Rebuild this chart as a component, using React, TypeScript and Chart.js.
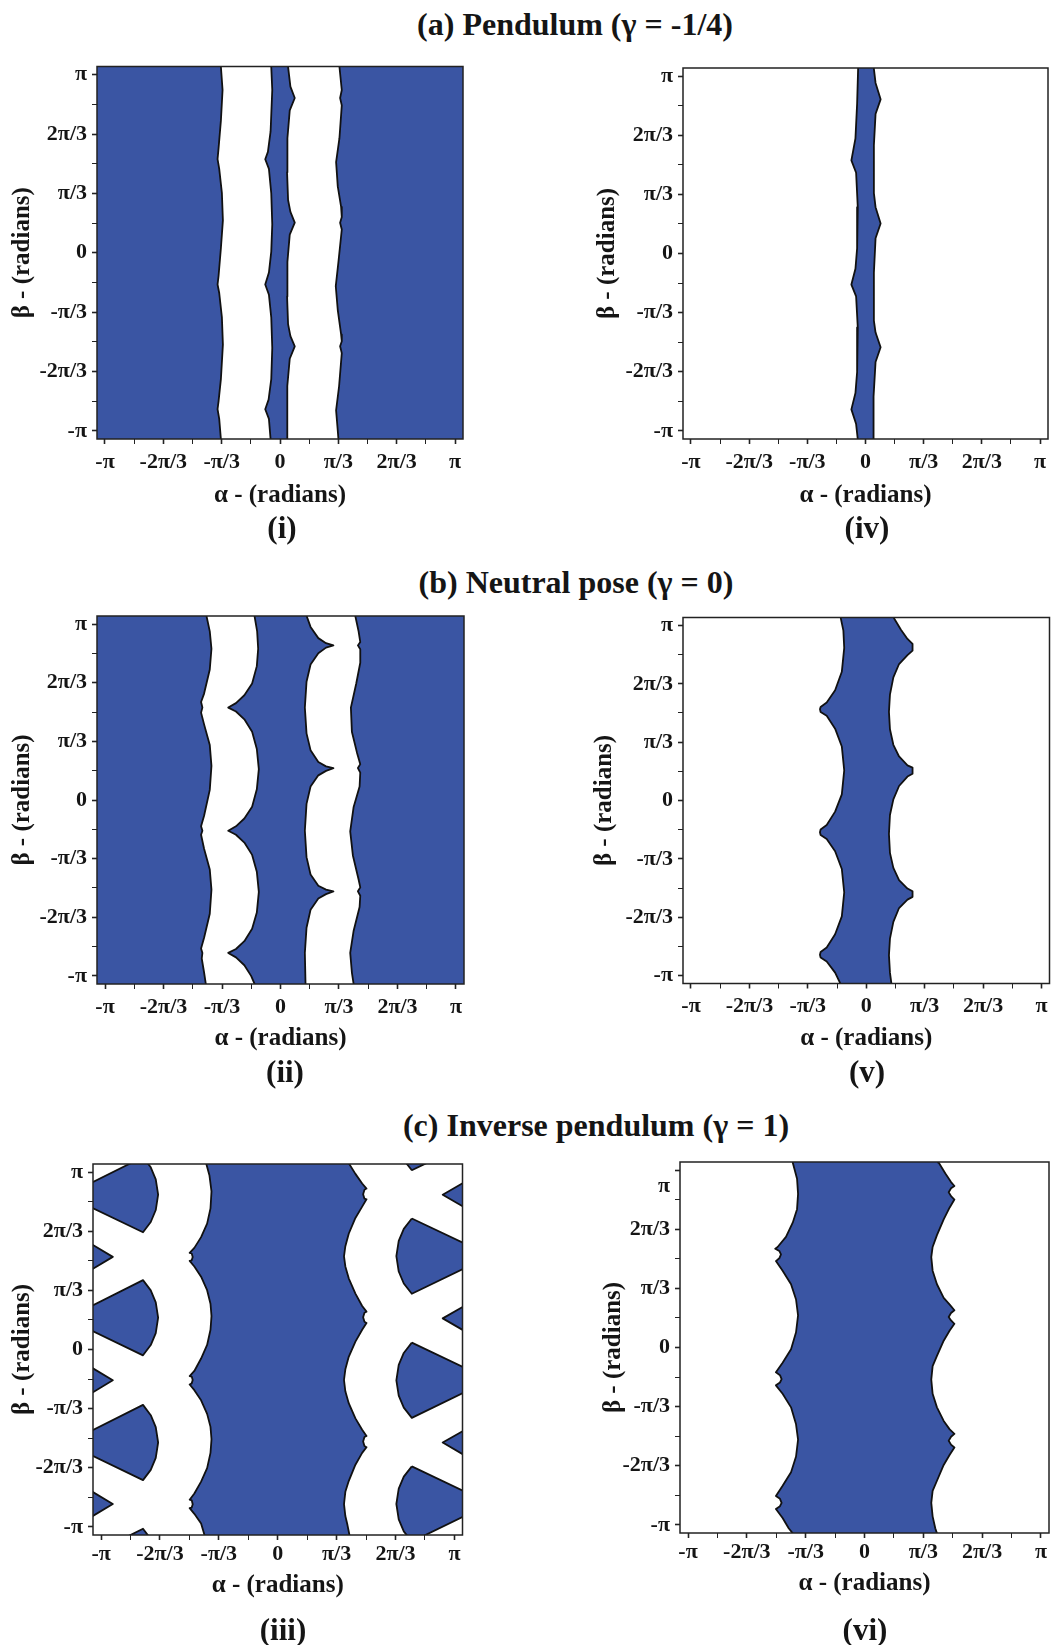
import React, { useEffect, useRef } from 'react';
import { Chart, registerables } from 'chart.js';

Chart.register(...registerables);

type Pt = [number, number];

// ---------- tick values / labels ----------
const TICK_VALUES = [-3.14159, -2.61799, -2.0944, -1.5708, -1.0472, -0.5236, 0, 0.5236, 1.0472, 1.5708, 2.0944, 2.61799, 3.14159];
const TICK_LABELS = ['-π', '', '-2π/3', '', '-π/3', '', '0', '', 'π/3', '', '2π/3', '', 'π'];
const SECTION_TITLES = ['(a) Pendulum (γ = -1/4)', '(b) Neutral pose (γ = 0)', '(c) Inverse pendulum (γ = 1)'];
const PANEL_LABELS = ['(i)', '(iv)', '(ii)', '(v)', '(iii)', '(vi)'];
const X_TITLE = 'α - (radians)';
const Y_TITLE = 'β - (radians)';

// ---------- (i) Pendulum, boundary curves [alpha, beta] ----------
const I_L1: Pt[] = [[-1.061, 3.4], [-1.061, 3.28], [-1.031, 2.87], [-1.061, 2.33], [-1.103, 1.84], [-1.121, 1.65], [-1.091, 1.48], [-1.043, 1.05], [-1.025, 0.57], [-1.061, 0.08], [-1.103, -0.41], [-1.121, -0.56], [-1.091, -0.71], [-1.043, -1.14], [-1.025, -1.62], [-1.061, -2.23], [-1.103, -2.62], [-1.121, -2.76], [-1.091, -2.93], [-1.061, -3.29], [-1.061, -3.4]];
const I_L2: Pt[] = [[-0.157, 3.4], [-0.157, 3.28], [-0.139, 2.87], [-0.169, 2.14], [-0.217, 1.78], [-0.265, 1.65], [-0.199, 1.48], [-0.157, 1.05], [-0.139, 0.5], [-0.157, 0.02], [-0.199, -0.35], [-0.265, -0.56], [-0.199, -0.74], [-0.157, -1.14], [-0.139, -1.68], [-0.157, -2.23], [-0.205, -2.59], [-0.265, -2.76], [-0.199, -2.93], [-0.169, -3.29], [-0.169, -3.4]];
const I_L3: Pt[] = [[0.145, 3.4], [0.145, 3.28], [0.187, 2.93], [0.265, 2.73], [0.175, 2.51], [0.133, 2.02], [0.127, 1.42], [0.145, 0.93], [0.187, 0.72], [0.265, 0.53], [0.175, 0.32], [0.133, -0.16], [0.127, -0.77], [0.145, -1.26], [0.187, -1.47], [0.265, -1.65], [0.175, -1.87], [0.133, -2.35], [0.127, -2.84], [0.133, -3.29], [0.133, -3.4]];
const I_L4: Pt[] = [[1.067, 3.4], [1.067, 3.28], [1.109, 2.87], [1.079, 2.73], [1.109, 2.6], [1.067, 2.02], [1.007, 1.6], [1.037, 1.17], [1.097, 0.81], [1.109, 0.63], [1.079, 0.53], [1.109, 0.41], [1.049, -0.16], [1.001, -0.59], [1.037, -1.01], [1.097, -1.44], [1.109, -1.56], [1.079, -1.65], [1.109, -1.77], [1.061, -2.35], [1.007, -2.78], [1.037, -3.14], [1.049, -3.29], [1.049, -3.4]];

// ---------- (iv) ----------
const IV_LEFT: Pt[] = [[-0.133, 3.4], [-0.133, 3.27], [-0.151, 2.65], [-0.181, 2.04], [-0.254, 1.65], [-0.169, 1.43], [-0.139, 0.82], [-0.151, 0.09], [-0.181, -0.27], [-0.254, -0.55], [-0.169, -0.76], [-0.139, -1.31], [-0.151, -2.1], [-0.181, -2.47], [-0.254, -2.76], [-0.169, -3.02], [-0.139, -3.29], [-0.139, -3.4]];
const IV_RIGHT: Pt[] = [[0.151, 3.4], [0.151, 3.27], [0.181, 3.02], [0.272, 2.73], [0.181, 2.47], [0.151, 1.92], [0.151, 1.07], [0.181, 0.82], [0.272, 0.53], [0.181, 0.27], [0.151, -0.34], [0.151, -1.19], [0.181, -1.4], [0.272, -1.66], [0.181, -1.92], [0.151, -2.53], [0.139, -3.29], [0.139, -3.4]];

// ---------- (ii) Neutral pose ----------
const II_M1: Pt[] = [[-1.326, 3.4], [-1.326, 3.29], [-1.266, 3.01], [-1.236, 2.7], [-1.266, 2.33], [-1.368, 1.9], [-1.422, 1.75], [-1.398, 1.65], [-1.422, 1.56], [-1.368, 1.35], [-1.266, 0.98], [-1.236, 0.61], [-1.266, 0.18], [-1.368, -0.28], [-1.422, -0.47], [-1.398, -0.55], [-1.422, -0.62], [-1.368, -0.87], [-1.266, -1.24], [-1.236, -1.6], [-1.266, -2.03], [-1.368, -2.46], [-1.422, -2.65], [-1.398, -2.73], [-1.41, -2.83], [-1.368, -3.08], [-1.338, -3.28], [-1.338, -3.4]];
const II_M2: Pt[] = [[-0.466, 3.4], [-0.466, 3.29], [-0.418, 3.01], [-0.4, 2.7], [-0.424, 2.39], [-0.508, 2.08], [-0.647, 1.87], [-0.797, 1.73], [-0.935, 1.65], [-0.797, 1.58], [-0.647, 1.44], [-0.508, 1.22], [-0.424, 0.91], [-0.388, 0.55], [-0.424, 0.19], [-0.508, -0.12], [-0.647, -0.33], [-0.797, -0.47], [-0.935, -0.55], [-0.797, -0.62], [-0.647, -0.76], [-0.508, -0.98], [-0.424, -1.28], [-0.388, -1.64], [-0.424, -2.01], [-0.508, -2.3], [-0.647, -2.52], [-0.797, -2.66], [-0.935, -2.73], [-0.797, -2.81], [-0.647, -2.95], [-0.526, -3.14], [-0.466, -3.28], [-0.466, -3.4]];
const II_M3: Pt[] = [[0.466, 3.4], [0.466, 3.29], [0.538, 3.09], [0.677, 2.89], [0.815, 2.8], [0.947, 2.76], [0.815, 2.72], [0.677, 2.62], [0.538, 2.42], [0.466, 2.11], [0.436, 1.65], [0.466, 1.19], [0.538, 0.89], [0.677, 0.68], [0.815, 0.6], [0.947, 0.57], [0.815, 0.52], [0.677, 0.44], [0.538, 0.24], [0.466, -0.07], [0.436, -0.55], [0.466, -1.02], [0.538, -1.33], [0.677, -1.53], [0.815, -1.6], [0.947, -1.63], [0.815, -1.68], [0.677, -1.76], [0.538, -1.96], [0.466, -2.28], [0.436, -2.73], [0.448, -3.28], [0.448, -3.4]];
const II_M4: Pt[] = [[1.338, 3.4], [1.338, 3.29], [1.398, 3.01], [1.428, 2.82], [1.386, 2.76], [1.428, 2.69], [1.428, 2.45], [1.356, 2.08], [1.26, 1.65], [1.278, 1.22], [1.368, 0.85], [1.428, 0.64], [1.386, 0.57], [1.428, 0.49], [1.416, 0.24], [1.308, -0.13], [1.248, -0.56], [1.296, -0.99], [1.398, -1.42], [1.428, -1.56], [1.386, -1.63], [1.428, -1.71], [1.416, -1.91], [1.308, -2.34], [1.248, -2.73], [1.278, -3.08], [1.308, -3.28], [1.308, -3.4]];

// ---------- (v) ----------
const V_LEFT: Pt[] = [[-0.456, 3.4], [-0.456, 3.27], [-0.41, 3.05], [-0.395, 2.74], [-0.438, 2.31], [-0.558, 1.98], [-0.709, 1.76], [-0.818, 1.68], [-0.83, 1.64], [-0.818, 1.59], [-0.709, 1.52], [-0.558, 1.29], [-0.438, 0.97], [-0.395, 0.54], [-0.438, 0.11], [-0.558, -0.2], [-0.709, -0.44], [-0.818, -0.52], [-0.83, -0.57], [-0.818, -0.62], [-0.709, -0.69], [-0.558, -0.91], [-0.438, -1.23], [-0.395, -1.65], [-0.438, -2.08], [-0.558, -2.4], [-0.709, -2.64], [-0.818, -2.72], [-0.83, -2.77], [-0.818, -2.82], [-0.709, -2.89], [-0.558, -3.09], [-0.468, -3.28], [-0.468, -3.4]];
const V_RIGHT: Pt[] = [[0.498, 3.4], [0.498, 3.27], [0.619, 3.07], [0.739, 2.9], [0.83, 2.81], [0.83, 2.69], [0.739, 2.61], [0.588, 2.45], [0.486, 2.21], [0.425, 1.9], [0.407, 1.59], [0.425, 1.28], [0.486, 1.0], [0.588, 0.79], [0.739, 0.63], [0.83, 0.59], [0.83, 0.48], [0.739, 0.43], [0.588, 0.26], [0.486, 0.02], [0.425, -0.26], [0.407, -0.6], [0.425, -0.94], [0.486, -1.21], [0.588, -1.43], [0.739, -1.58], [0.83, -1.63], [0.83, -1.73], [0.739, -1.78], [0.588, -1.93], [0.486, -2.18], [0.425, -2.48], [0.407, -2.78], [0.425, -3.09], [0.45, -3.28], [0.45, -3.4]];

// ---------- (iii) Inverse pendulum ----------
const III_C1: Pt[] = [[-1.274, 3.4], [-1.274, 3.3], [-1.214, 3.08], [-1.178, 2.8], [-1.196, 2.5], [-1.256, 2.23], [-1.363, 1.99], [-1.483, 1.8], [-1.566, 1.71], [-1.53, 1.7], [-1.512, 1.64], [-1.53, 1.58], [-1.566, 1.57], [-1.483, 1.47], [-1.363, 1.29], [-1.256, 1.05], [-1.196, 0.81], [-1.178, 0.59], [-1.196, 0.35], [-1.256, 0.08], [-1.363, -0.16], [-1.483, -0.38], [-1.566, -0.47], [-1.53, -0.48], [-1.512, -0.54], [-1.53, -0.6], [-1.566, -0.62], [-1.483, -0.72], [-1.363, -0.9], [-1.256, -1.14], [-1.196, -1.37], [-1.178, -1.59], [-1.196, -1.83], [-1.256, -2.1], [-1.363, -2.34], [-1.483, -2.55], [-1.566, -2.66], [-1.53, -2.67], [-1.512, -2.74], [-1.53, -2.8], [-1.566, -2.81], [-1.483, -2.91], [-1.363, -3.08], [-1.304, -3.28], [-1.29, -3.4]];
const III_C2: Pt[] = [[1.262, 3.4], [1.262, 3.3], [1.381, 3.11], [1.501, 2.94], [1.578, 2.85], [1.542, 2.83], [1.518, 2.75], [1.542, 2.67], [1.578, 2.66], [1.501, 2.53], [1.381, 2.33], [1.262, 2.05], [1.202, 1.83], [1.178, 1.65], [1.202, 1.47], [1.262, 1.26], [1.381, 0.99], [1.501, 0.77], [1.578, 0.67], [1.542, 0.65], [1.518, 0.57], [1.542, 0.49], [1.578, 0.47], [1.501, 0.35], [1.381, 0.14], [1.262, -0.13], [1.202, -0.35], [1.178, -0.54], [1.202, -0.74], [1.262, -0.95], [1.381, -1.22], [1.501, -1.42], [1.578, -1.53], [1.542, -1.55], [1.518, -1.63], [1.542, -1.71], [1.578, -1.73], [1.501, -1.83], [1.381, -2.04], [1.262, -2.33], [1.202, -2.52], [1.178, -2.74], [1.202, -2.95], [1.238, -3.1], [1.274, -3.28], [1.28, -3.4]];
const III_FAN_L_A: Pt[] = [[-3.35, 2.932], [-2.396, 3.408], [-2.258, 3.226], [-2.169, 3.014], [-2.127, 2.742], [-2.169, 2.47], [-2.258, 2.258], [-2.396, 2.076], [-3.35, 2.534]];
const III_FAN_L_B: Pt[] = [[-3.35, 0.753], [-2.396, 1.229], [-2.258, 1.047], [-2.169, 0.835], [-2.127, 0.563], [-2.169, 0.291], [-2.258, 0.079], [-2.396, -0.103], [-3.35, 0.355]];
const III_FAN_L_C: Pt[] = [[-3.35, -1.457], [-2.396, -0.981], [-2.258, -1.163], [-2.169, -1.375], [-2.127, -1.647], [-2.169, -1.919], [-2.258, -2.131], [-2.396, -2.313], [-3.35, -1.855]];
const III_FAN_L_D: Pt[] = [[-3.35, -3.65], [-2.396, -3.174], [-2.258, -3.356], [-2.169, -3.568], [-2.127, -3.84], [-3.35, -3.84]];
const III_TRI_L_A: Pt[] = [[-3.35, 1.89], [-2.933, 1.64], [-3.35, 1.39]];
const III_TRI_L_B: Pt[] = [[-3.35, -0.295], [-2.933, -0.545], [-3.35, -0.795]];
const III_TRI_L_C: Pt[] = [[-3.35, -2.486], [-2.933, -2.736], [-3.35, -2.986]];
const III_FAN_R_A: Pt[] = [[2.384, 2.319], [3.35, 1.863], [3.35, 1.453], [2.384, 0.987], [2.241, 1.169], [2.151, 1.381], [2.109, 1.653], [2.151, 1.925], [2.241, 2.137]];
const III_FAN_R_B: Pt[] = [[2.384, 0.121], [3.35, -0.335], [3.35, -0.745], [2.384, -1.211], [2.241, -1.029], [2.151, -0.817], [2.109, -0.545], [2.151, -0.273], [2.241, -0.061]];
const III_FAN_R_C: Pt[] = [[2.384, -2.07], [3.35, -2.526], [3.35, -2.936], [2.384, -3.402], [2.241, -3.22], [2.151, -3.008], [2.109, -2.736], [2.151, -2.464], [2.241, -2.252]];
const III_FAN_R_D: Pt[] = [[2.384, 3.174], [3.35, 3.64], [3.35, 3.84], [2.109, 3.84], [2.151, 3.568], [2.241, 3.356]];
const III_TRI_R_A: Pt[] = [[3.35, 2.98], [2.933, 2.742], [3.35, 2.5]];
const III_TRI_R_B: Pt[] = [[3.35, 0.79], [2.933, 0.551], [3.35, 0.31]];
const III_TRI_R_C: Pt[] = [[3.35, -1.41], [2.933, -1.647], [3.35, -1.89]];

// ---------- (vi) ----------
const VI_W1: Pt[] = [[-1.29, 3.4], [-1.278, 3.275], [-1.201, 2.99], [-1.183, 2.72], [-1.201, 2.45], [-1.278, 2.21], [-1.398, 1.96], [-1.547, 1.78], [-1.589, 1.75], [-1.517, 1.71], [-1.487, 1.65], [-1.517, 1.58], [-1.577, 1.53], [-1.458, 1.36], [-1.308, 1.12], [-1.219, 0.85], [-1.183, 0.57], [-1.219, 0.27], [-1.308, -0.03], [-1.458, -0.27], [-1.577, -0.44], [-1.505, -0.49], [-1.476, -0.56], [-1.505, -0.62], [-1.577, -0.67], [-1.458, -0.82], [-1.308, -1.06], [-1.219, -1.36], [-1.183, -1.63], [-1.219, -1.93], [-1.308, -2.21], [-1.458, -2.45], [-1.577, -2.63], [-1.505, -2.68], [-1.476, -2.75], [-1.505, -2.81], [-1.577, -2.86], [-1.458, -3.02], [-1.35, -3.2], [-1.278, -3.29], [-1.26, -3.4]];
const VI_W2: Pt[] = [[1.31, 3.4], [1.32, 3.275], [1.44, 3.08], [1.541, 2.93], [1.601, 2.86], [1.541, 2.82], [1.499, 2.75], [1.541, 2.68], [1.601, 2.62], [1.517, 2.48], [1.41, 2.27], [1.29, 1.99], [1.213, 1.78], [1.189, 1.6], [1.213, 1.36], [1.29, 1.12], [1.41, 0.88], [1.517, 0.76], [1.601, 0.66], [1.541, 0.61], [1.499, 0.54], [1.541, 0.48], [1.601, 0.42], [1.517, 0.3], [1.41, 0.12], [1.29, -0.15], [1.213, -0.33], [1.189, -0.57], [1.213, -0.82], [1.29, -1.06], [1.41, -1.3], [1.517, -1.45], [1.601, -1.53], [1.541, -1.58], [1.499, -1.65], [1.541, -1.72], [1.601, -1.77], [1.517, -1.9], [1.41, -2.08], [1.29, -2.36], [1.213, -2.54], [1.189, -2.75], [1.213, -2.99], [1.26, -3.2], [1.29, -3.29], [1.3, -3.4]];

const rev = (a: Pt[]): Pt[] => [...a].reverse();
const close = (a: Pt[]): Pt[] => [...a, a[0]];

const REGIONS_I: Pt[][] = [
  [[-3.6, 3.4], ...I_L1, [-3.6, -3.4]],
  [...I_L2, ...rev(I_L3)],
  [...I_L4, [3.6, -3.4], [3.6, 3.4]],
];
const REGIONS_IV: Pt[][] = [[...IV_LEFT, ...rev(IV_RIGHT)]];
const REGIONS_II: Pt[][] = [
  [[-3.6, 3.4], ...II_M1, [-3.6, -3.4]],
  [...II_M2, ...rev(II_M3)],
  [...II_M4, [3.6, -3.4], [3.6, 3.4]],
];
const REGIONS_V: Pt[][] = [[...V_LEFT, ...rev(V_RIGHT)]];
const REGIONS_III: Pt[][] = [
  [...III_C1, ...rev(III_C2)],
  III_FAN_L_A, III_FAN_L_B, III_FAN_L_C, III_FAN_L_D,
  III_TRI_L_A, III_TRI_L_B, III_TRI_L_C,
  III_FAN_R_A, III_FAN_R_B, III_FAN_R_C, III_FAN_R_D,
  III_TRI_R_A, III_TRI_R_B, III_TRI_R_C,
];
const REGIONS_VI: Pt[][] = [[...VI_W1, ...rev(VI_W2)]];

// ---------- styling / layout ----------
const FONT = "'Liberation Serif', 'Times New Roman', Times, serif";
const BLUE = '#3a55a3';
const LINE = '#111111';
const TEXT = '#151515';
const AXIS_MIN = -3.285;
const AXIS_MAX = 3.285;
const Y_AXIS_W = 95;
const X_AXIS_H = 80;
const PAD_T = 28;
const PAD_R = 14;
const TITLE_FONT_SIZE = 25;

type PanelCfg = {
  box: { l: number; t: number; r: number; b: number };
  yTitleX: number;
  xTitleOff: number;
  tickPad: number;
  label: string;
  labelX: number;
  labelY: number;
  shiftedPi?: number;
  regions: Pt[][];
};

const PANELS: PanelCfg[] = [
  { box: { l: 97, t: 66.5, r: 463, b: 439 }, yTitleX: 23, xTitleOff: 57, tickPad: 5, label: PANEL_LABELS[0], labelX: 282, labelY: 527, regions: REGIONS_I },
  { box: { l: 683, t: 68, r: 1048, b: 439 }, yTitleX: 608, xTitleOff: 57, tickPad: 5, label: PANEL_LABELS[1], labelX: 867, labelY: 527, regions: REGIONS_IV },
  { box: { l: 97, t: 616, r: 464, b: 984 }, yTitleX: 23, xTitleOff: 55, tickPad: 5, label: PANEL_LABELS[2], labelX: 285, labelY: 1071, regions: REGIONS_II },
  { box: { l: 683, t: 617.5, r: 1049.5, b: 983.5 }, yTitleX: 605, xTitleOff: 55, tickPad: 5, label: PANEL_LABELS[3], labelX: 867, labelY: 1071, regions: REGIONS_V },
  { box: { l: 93, t: 1164, r: 462.5, b: 1535 }, yTitleX: 23, xTitleOff: 51, tickPad: 1.5, label: PANEL_LABELS[4], labelX: 283, labelY: 1629, regions: REGIONS_III },
  { box: { l: 680, t: 1162, r: 1049, b: 1533 }, yTitleX: 614, xTitleOff: 51, tickPad: 1.5, label: PANEL_LABELS[5], labelX: 865, labelY: 1629, shiftedPi: 15, regions: REGIONS_VI },
];

const SECTION_POS = [
  { x: 575, y: 24 },
  { x: 576, y: 582 },
  { x: 596, y: 1125 },
];

const boxPlugin = {
  id: 'boxBorder',
  afterDraw(chart: any) {
    const { ctx, chartArea } = chart;
    const { left, top, right, bottom } = chartArea;
    ctx.save();
    ctx.strokeStyle = '#222';
    ctx.lineWidth = 1.5;
    ctx.strokeRect(left, top, right - left, bottom - top);
    ctx.restore();
  },
};

function RegionChart({ p }: { p: PanelCfg }) {
  const ref = useRef<HTMLCanvasElement | null>(null);
  const left = Math.round(p.box.l - Y_AXIS_W);
  const top = Math.round(p.box.t - PAD_T);
  const w = Math.round(p.box.r + PAD_R) - left;
  const h = Math.round(p.box.b + X_AXIS_H) - top;

  useEffect(() => {
    if (!ref.current) return;
    const tickFont = { family: FONT, size: 22, weight: 'bold' as const };
    const titleFont = { family: FONT, size: TITLE_FONT_SIZE, weight: 'bold' as const };
    const makeGrid = () => ({
      drawOnChartArea: false,
      drawTicks: true,
      tickLength: 5,
      tickColor: '#222',
      tickWidth: (c: any) => (c.index % 2 === 0 ? 1.6 : 1),
    });
    const half = (TITLE_FONT_SIZE * 1.2) / 2;
    const padT = p.box.t - top;
    const padR = left + w - p.box.r;
    const yAxisW = p.box.l - left;
    const xAxisH = top + h - p.box.b;
    const yPad = Math.max(0, p.yTitleX - left - half);
    const xPad = Math.max(0, xAxisH - p.xTitleOff - half);
    const yLabels = TICK_LABELS.map((s, i) => (p.shiftedPi && i === TICK_LABELS.length - 1 ? '' : s));
    const chart = new Chart(ref.current, {
      type: 'scatter',
      data: {
        datasets: p.regions.map((poly) => ({
          data: close(poly).map(([x, y]) => ({ x, y })),
          showLine: true,
          fill: 'shape',
          backgroundColor: BLUE,
          borderColor: LINE,
          borderWidth: 1.8,
          pointRadius: 0,
          pointHoverRadius: 0,
          tension: 0,
          borderJoinStyle: 'round',
        })) as any,
      },
      options: {
        responsive: false,
        animation: false,
        devicePixelRatio: 1,
        events: [],
        layout: { padding: { left: 0, top: padT, right: padR, bottom: 0 } },
        plugins: { legend: { display: false }, tooltip: { enabled: false } },
        scales: {
          x: {
            type: 'linear',
            min: AXIS_MIN,
            max: AXIS_MAX,
            afterBuildTicks: (s: any) => {
              s.ticks = TICK_VALUES.map((v) => ({ value: v }));
            },
            afterFit: (s: any) => {
              s.height = xAxisH;
            },
            ticks: {
              autoSkip: false,
              maxRotation: 0,
              minRotation: 0,
              padding: p.tickPad,
              color: TEXT,
              font: tickFont,
              callback: (_v: any, i: number) => TICK_LABELS[i],
            },
            grid: makeGrid(),
            border: { display: false },
            title: { display: true, text: X_TITLE, color: TEXT, font: titleFont, padding: { top: 0, bottom: xPad } },
          },
          y: {
            type: 'linear',
            min: AXIS_MIN,
            max: AXIS_MAX,
            afterBuildTicks: (s: any) => {
              s.ticks = TICK_VALUES.map((v) => ({ value: v }));
            },
            afterFit: (s: any) => {
              s.width = yAxisW;
            },
            ticks: {
              autoSkip: false,
              padding: 5,
              color: TEXT,
              font: tickFont,
              callback: (_v: any, i: number) => yLabels[i],
            },
            grid: makeGrid(),
            border: { display: false },
            title: { display: true, text: Y_TITLE, color: TEXT, font: titleFont, padding: { top: yPad, bottom: 0 } },
          },
        },
      } as any,
      plugins: [boxPlugin],
    });
    return () => chart.destroy();
  }, []);

  const piTop = p.box.t + ((AXIS_MAX - TICK_VALUES[TICK_VALUES.length - 1]) / (AXIS_MAX - AXIS_MIN)) * (p.box.b - p.box.t);

  return (
    <>
      <canvas
        ref={ref}
        width={w}
        height={h}
        style={{ position: 'absolute', left, top, width: w, height: h }}
      />
      {p.shiftedPi ? (
        <div
          style={{
            position: 'absolute',
            right: 1054 - (p.box.l - 10),
            top: piTop + p.shiftedPi,
            transform: 'translateY(-50%)',
            fontFamily: FONT,
            fontWeight: 'bold',
            fontSize: 22,
            lineHeight: 1,
            color: TEXT,
          }}
        >
          {TICK_LABELS[TICK_LABELS.length - 1]}
        </div>
      ) : null}
    </>
  );
}

export default function App() {
  const textStyle: React.CSSProperties = {
    position: 'absolute',
    transform: 'translate(-50%, -50%)',
    fontFamily: FONT,
    fontWeight: 'bold',
    color: TEXT,
    whiteSpace: 'nowrap',
    lineHeight: 1,
  };
  return (
    <div style={{ position: 'absolute', left: 0, top: 0, width: 1054, height: 1645, overflow: 'hidden', background: '#fff' }}>
      {SECTION_TITLES.map((t, i) => (
        <div key={t} style={{ ...textStyle, left: SECTION_POS[i].x, top: SECTION_POS[i].y, fontSize: 32 }}>
          {t}
        </div>
      ))}
      {PANELS.map((p, i) => (
        <RegionChart key={i} p={p} />
      ))}
      {PANELS.map((p, i) => (
        <div key={'l' + i} style={{ ...textStyle, left: p.labelX, top: p.labelY, fontSize: 31 }}>
          {p.label}
        </div>
      ))}
    </div>
  );
}
